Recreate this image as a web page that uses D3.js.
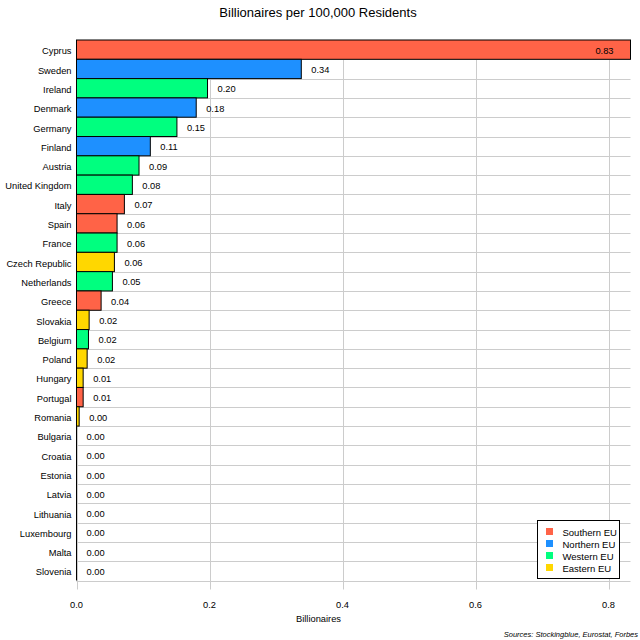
<!DOCTYPE html>
<html>
  <head>
    <meta charset="utf-8">
    <title>Billionaires per 100,000 Residents</title>
    <script src="https://d3js.org/d3.v7.min.js"></script>
    <style>
      body { margin: 0; background: #fff; }
      text { font-family: Arial, "Liberation Sans", sans-serif; }
    </style>
  </head>
  <body>
    <svg width="640" height="640"></svg>
    <script>
    var countries = ["Cyprus","Sweden","Ireland","Denmark","Germany","Finland","Austria","United Kingdom",
      "Italy","Spain","France","Czech Republic","Netherlands","Greece","Slovakia","Belgium","Poland",
      "Hungary","Portugal","Romania","Bulgaria","Croatia","Estonia","Latvia","Lithuania","Luxembourg",
      "Malta","Slovenia"];
    var values = [0.833,0.338,0.197,0.180,0.151,0.111,0.094,0.084,
      0.072,0.061,0.061,0.057,0.054,0.037,0.019,0.018,0.016,
      0.010,0.010,0.004,0,0,0,0,0,0,0,0];
    var regions = ["Southern EU","Northern EU","Western EU","Northern EU","Western EU","Northern EU","Western EU","Western EU",
      "Southern EU","Southern EU","Western EU","Eastern EU","Western EU","Southern EU","Eastern EU","Western EU","Eastern EU",
      "Eastern EU","Southern EU","Eastern EU","Eastern EU","Eastern EU","Northern EU","Northern EU","Northern EU","Western EU",
      "Southern EU","Eastern EU"];
    var regionNames = ["Southern EU","Northern EU","Western EU","Eastern EU"];
    var regionColors = ["#ff6347","#1e90ff","#00ff7f","#ffd700"];
    var xTicks = [0,0.2,0.4,0.6,0.8];

    var svg = d3.select("svg");
    var mLeft = 76.5, mRight = 630.5, mTop = 40, mBottom = 580.5;
    var fs = 9.3;

    var x = d3.scaleLinear().domain([0, d3.max(values)]).range([mLeft, mRight]);
    var y = d3.scaleBand().domain(countries).range([mTop, mBottom]).padding(0);
    var color = d3.scaleOrdinal().domain(regionNames).range(regionColors);

    var data = countries.map(function(c, i){
      return {country: c, value: values[i], region: regions[i]};
    });

    // title
    svg.append("text")
      .attr("x", 318).attr("y", 17)
      .attr("text-anchor", "middle")
      .attr("font-size", 13)
      .text("Billionaires per 100,000 Residents");

    // grid
    var grid = svg.append("g").attr("stroke", "#cccccc").attr("stroke-width", 1);
    grid.selectAll(".v").data(xTicks).enter().append("line")
      .attr("x1", function(d){ return Math.round(x(d)) + 0.5; })
      .attr("x2", function(d){ return Math.round(x(d)) + 0.5; })
      .attr("y1", mTop).attr("y2", mBottom + 9);
    grid.selectAll(".h").data(countries.slice(1)).enter().append("line")
      .attr("x1", mLeft).attr("x2", mRight)
      .attr("y1", function(d){ return Math.round(y(d)) + 0.5; })
      .attr("y2", function(d){ return Math.round(y(d)) + 0.5; });
    grid.append("line")
      .attr("x1", mLeft).attr("x2", mRight)
      .attr("y1", Math.round(mBottom) + 0.5).attr("y2", Math.round(mBottom) + 0.5);

    // left axis line
    svg.append("line")
      .attr("x1", mLeft).attr("x2", mLeft)
      .attr("y1", mTop).attr("y2", mBottom)
      .attr("stroke", "#000");

    // bars
    svg.append("g").selectAll("rect").data(data).enter().append("rect")
      .attr("x", mLeft)
      .attr("y", function(d){ return y(d.country); })
      .attr("width", function(d){ return x(d.value) - mLeft; })
      .attr("height", y.bandwidth())
      .attr("fill", function(d){ return color(d.region); })
      .attr("stroke", "#000")
      .attr("stroke-width", 1);

    // value labels
    svg.append("g").selectAll("text").data(data).enter().append("text")
      .attr("x", function(d, i){ return i == 0 ? x(d.value) - 17 : x(d.value) + 10; })
      .attr("y", function(d){ return y(d.country) + y.bandwidth() / 2; })
      .attr("dy", "0.45em")
      .attr("text-anchor", function(d, i){ return i == 0 ? "end" : "start"; })
      .attr("font-size", fs)
      .text(function(d){ return d3.format(".2f")(d.value); });

    // country labels
    svg.append("g").selectAll("text").data(countries).enter().append("text")
      .attr("x", mLeft - 5)
      .attr("y", function(d){ return y(d) + y.bandwidth() / 2; })
      .attr("dy", "0.5em")
      .attr("text-anchor", "end")
      .attr("font-size", fs)
      .text(function(d){ return d; });

    // x tick labels
    svg.append("g").selectAll("text").data(xTicks).enter().append("text")
      .attr("x", function(d){ return x(d); })
      .attr("y", 608)
      .attr("text-anchor", "middle")
      .attr("font-size", fs)
      .text(function(d){ return d3.format(".1f")(d); });

    svg.append("text")
      .attr("x", (mLeft + mRight) / 2 - 35).attr("y", 622)
      .attr("text-anchor", "middle")
      .attr("font-size", fs)
      .text("Billionaires");

    svg.append("text")
      .attr("x", 638).attr("y", 637)
      .attr("text-anchor", "end")
      .attr("font-size", 7.5)
      .attr("font-style", "italic")
      .text("Sources: Stockingblue, Eurostat, Forbes");

    // legend
    var lg = svg.append("g").attr("transform", "translate(537.5,520.5)");
    lg.append("rect").attr("width", 82).attr("height", 58)
      .attr("fill", "#fff").attr("stroke", "#000");
    var items = lg.selectAll("g").data(regionNames).enter().append("g")
      .attr("transform", function(d, i){ return "translate(0," + (12 + i * 12) + ")"; });
    items.append("rect")
      .attr("x", 8.5).attr("y", -4.5).attr("width", 7).attr("height", 7)
      .attr("fill", function(d){ return color(d); });
    items.append("text")
      .attr("x", 25).attr("y", 0).attr("dy", "0.4em")
      .attr("font-size", 9.5)
      .text(function(d){ return d; });
    </script>
  </body>
</html>
